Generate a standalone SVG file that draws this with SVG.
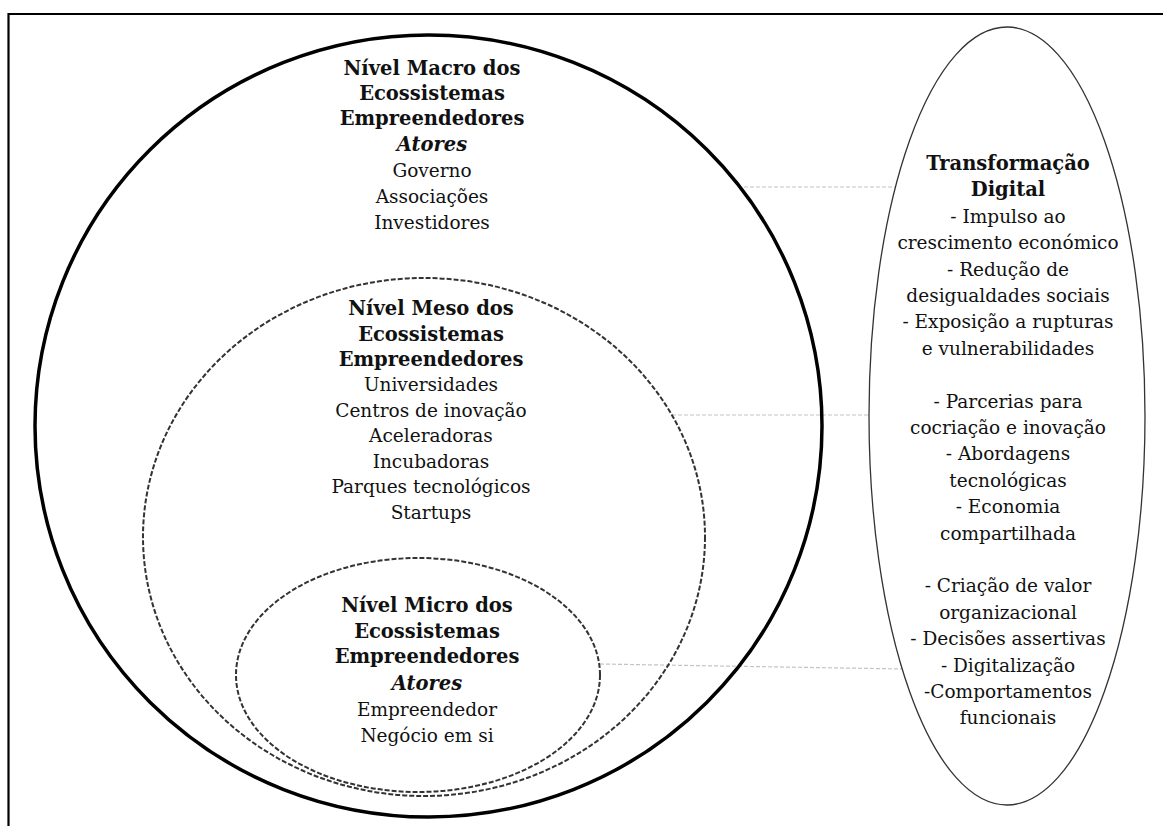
<svg xmlns="http://www.w3.org/2000/svg" width="1163" height="826" viewBox="0 0 1163 826">
<style>
  .t { font-family: "DejaVu Serif", "Liberation Serif", serif; font-size: 18.5px; fill: #111; text-anchor: middle; }
  .b { font-weight: bold; font-size: 19.5px; }
  .bi { font-weight: bold; font-style: italic; font-size: 19.5px; }
  .dash { fill: none; stroke: #333; stroke-width: 2; stroke-dasharray: 5 2; }
  .conn { fill: none; stroke: #c4c4c4; stroke-width: 1.2; stroke-dasharray: 4 2; }
</style>
<rect width="1163" height="826" fill="#fff"/>
<path d="M 8.5 826 V 14 H 1163" fill="none" stroke="#000" stroke-width="2.2"/>

<g id="connectors">
  <path class="conn" d="M 744 187 H 895"/>
  <path class="conn" d="M 672 415 H 869"/>
  <path class="conn" d="M 600 664 L 903 669"/>
</g>

<g id="macro">
  <ellipse cx="428.5" cy="426" rx="393.5" ry="391" fill="none" stroke="#000" stroke-width="3.5"/>
  <text class="t b" x="432" y="75">Nível Macro dos</text>
  <text class="t b" x="432" y="100">Ecossistemas</text>
  <text class="t b" x="432" y="125">Empreendedores</text>
  <text class="t bi" x="432" y="151">Atores</text>
  <text class="t" x="432" y="177">Governo</text>
  <text class="t" x="432" y="203">Associações</text>
  <text class="t" x="432" y="229">Investidores</text>
</g>

<g id="meso">
  <ellipse class="dash" cx="424" cy="537" rx="281" ry="259"/>
  <text class="t b" x="431" y="315">Nível Meso dos</text>
  <text class="t b" x="431" y="341">Ecossistemas</text>
  <text class="t b" x="431" y="366">Empreendedores</text>
  <text class="t" x="431" y="391">Universidades</text>
  <text class="t" x="431" y="417">Centros de inovação</text>
  <text class="t" x="431" y="442">Aceleradoras</text>
  <text class="t" x="431" y="468">Incubadoras</text>
  <text class="t" x="431" y="493">Parques tecnológicos</text>
  <text class="t" x="431" y="519">Startups</text>
</g>

<g id="micro">
  <ellipse class="dash" cx="418" cy="675" rx="182" ry="117"/>
  <text class="t b" x="427" y="612">Nível Micro dos</text>
  <text class="t b" x="427" y="638">Ecossistemas</text>
  <text class="t b" x="427" y="663">Empreendedores</text>
  <text class="t bi" x="427" y="690">Atores</text>
  <text class="t" x="427" y="716">Empreendedor</text>
  <text class="t" x="427" y="742">Negócio em si</text>
</g>

<g id="transformacao">
  <ellipse cx="1007" cy="416" rx="138" ry="389" fill="none" stroke="#333" stroke-width="1.3"/>
  <text class="t b" x="1008" y="170">Transformação</text>
  <text class="t b" x="1008" y="196.4">Digital</text>
  <text class="t" x="1008" y="222.8">- Impulso ao</text>
  <text class="t" x="1008" y="249.2">crescimento económico</text>
  <text class="t" x="1008" y="275.6">- Redução de</text>
  <text class="t" x="1008" y="302">desigualdades sociais</text>
  <text class="t" x="1008" y="328.4">- Exposição a rupturas</text>
  <text class="t" x="1008" y="354.8">e vulnerabilidades</text>
  <text class="t" x="1008" y="407.6">- Parcerias para</text>
  <text class="t" x="1008" y="434">cocriação e inovação</text>
  <text class="t" x="1008" y="460.4">- Abordagens</text>
  <text class="t" x="1008" y="486.8">tecnológicas</text>
  <text class="t" x="1008" y="513.2">- Economia</text>
  <text class="t" x="1008" y="539.6">compartilhada</text>
  <text class="t" x="1008" y="592.4">- Criação de valor</text>
  <text class="t" x="1008" y="618.8">organizacional</text>
  <text class="t" x="1008" y="645.2">- Decisões assertivas</text>
  <text class="t" x="1008" y="671.6">- Digitalização</text>
  <text class="t" x="1008" y="698">-Comportamentos</text>
  <text class="t" x="1008" y="724.4">funcionais</text>
</g>
</svg>
